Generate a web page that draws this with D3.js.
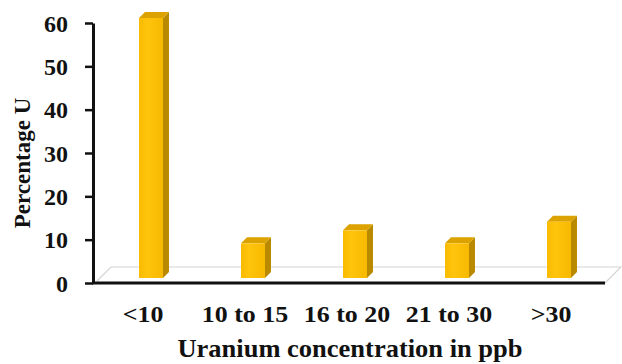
<!DOCTYPE html>
<html>
<head>
<meta charset="utf-8">
<script src="https://cdn.jsdelivr.net/npm/d3@7"></script>
<style>
  html, body { margin: 0; padding: 0; background: #fff; }
  svg { display: block; }
</style>
</head>
<body>
<svg id="chart" width="622" height="364"></svg>
<script>
// Share of samples by uranium concentration class
const categories = ["<10", "10 to 15", "16 to 20", "21 to 30", ">30"];
const percentages = [60, 8, 11, 8, 13];
const yTicks = [0, 10, 20, 30, 40, 50, 60];

const FONT = "'Liberation Serif', 'Times New Roman', serif";
const svg = d3.select("#chart");

const floorLeft = 95, floorRight = 605, baseY = 283, topY = 23;
const floorDepth = 16;      // oblique depth of the floor (px, 45°)
const barFront = 5;         // depth at which bar front faces sit
const barDepth = 6;         // bar thickness in depth
const barWidthRatio = 0.235;

const x = d3.scaleBand().domain(categories).range([floorLeft, floorRight]);
const y = d3.scaleLinear().domain([0, 60]).range([baseY, topY]);

function styleText(sel, size) {
  return sel.style("font-family", FONT)
    .style("font-weight", "bold")
    .style("font-size", size + "px")
    .attr("fill", "#111");
}

// floor outline (light grey), front edge drawn later as the axis
const floor = [
  [floorLeft + 2, baseY - 2],
  [floorLeft + floorDepth, baseY - floorDepth],
  [floorRight + floorDepth, baseY - floorDepth],
  [floorRight, baseY]
];
svg.append("path")
  .attr("d", d3.line()(floor))
  .attr("fill", "none")
  .attr("stroke", "#d4d4d4")
  .attr("stroke-width", 1.2);

// front-face shading
const defs = svg.append("defs");
const grad = defs.append("linearGradient").attr("id", "frontGrad")
  .attr("x1", "0%").attr("x2", "100%").attr("y1", "0%").attr("y2", "0%");
grad.append("stop").attr("offset", "0%").attr("stop-color", "#f9bb00");
grad.append("stop").attr("offset", "35%").attr("stop-color", "#ffc40d");
grad.append("stop").attr("offset", "100%").attr("stop-color", "#f7b900");

const bw = x.bandwidth() * barWidthRatio;
const bars = svg.append("g").selectAll("g")
  .data(categories.map((c, i) => ({ cat: c, value: percentages[i] })))
  .join("g");

bars.each(function (d) {
  const g = d3.select(this);
  const x0 = x(d.cat) + x.bandwidth() / 2 - bw / 2 + barFront;
  const yb = y(0) - barFront;
  const yt = y(d.value) - barFront;
  const dd = barDepth;
  // side face
  g.append("path")
    .attr("d", d3.line()([[x0 + bw, yb], [x0 + bw + dd, yb - dd], [x0 + bw + dd, yt - dd], [x0 + bw, yt]]) + "Z")
    .attr("fill", "#b98a00");
  // top face
  g.append("path")
    .attr("d", d3.line()([[x0, yt], [x0 + dd, yt - dd], [x0 + bw + dd, yt - dd], [x0 + bw, yt]]) + "Z")
    .attr("fill", "#dca200");
  // front face
  g.append("rect")
    .attr("x", x0).attr("y", yt)
    .attr("width", bw).attr("height", yb - yt)
    .attr("fill", "url(#frontGrad)");
});

// x axis line (front edge of the floor)
svg.append("line")
  .attr("x1", floorLeft - 3).attr("x2", floorRight)
  .attr("y1", baseY).attr("y2", baseY)
  .attr("stroke", "#111").attr("stroke-width", 3);

// y axis
const yAxis = svg.append("g")
  .attr("transform", `translate(${floorLeft - 2},0)`)
  .call(d3.axisLeft(y).tickValues(yTicks).tickSize(8).tickSizeOuter(0).tickPadding(17));
yAxis.select(".domain").attr("stroke", "#111").attr("stroke-width", 3);
yAxis.selectAll(".tick line").attr("stroke", "#111").attr("stroke-width", 2.5);
styleText(yAxis.selectAll(".tick text"), 24).attr("dy", "0.34em");

// category labels
styleText(svg.append("g").selectAll("text")
  .data(categories)
  .join("text")
  .attr("transform", d => `translate(${x(d) + x.bandwidth() / 2 - 3},322) scale(1.08,1)`)
  .attr("text-anchor", "middle")
  .text(d => d), 24);

// axis titles
styleText(svg.append("text")
  .attr("transform", "translate(350,357) scale(1.06,1)")
  .attr("text-anchor", "middle")
  .text("Uranium concentration in ppb"), 25);

styleText(svg.append("text")
  .attr("transform", "translate(30,163) rotate(-90)")
  .attr("text-anchor", "middle")
  .text("Percentage U"), 23);
</script>
</body>
</html>
